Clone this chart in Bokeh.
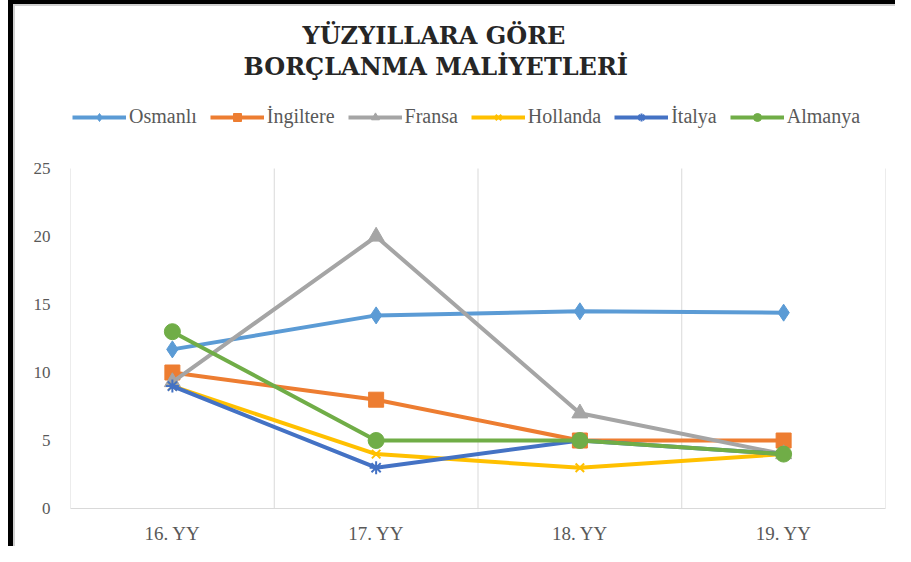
from bokeh.plotting import figure
from bokeh.models import (Range1d, Legend, LegendItem, Title, FixedTicker)
from bokeh.embed import file_html
from bokeh.resources import INLINE

categories = ["16. YY", "17. YY", "18. YY", "19. YY"]
series_names = ["Osmanlı", "İngiltere", "Fransa", "Hollanda", "İtalya", "Almanya"]
osmanli = [11.7, 14.2, 14.5, 14.4]
ingiltere = [10, 8, 5, 5]
fransa = [9.3, 20, 7, 4]
hollanda = [9, 4, 3, 4]
italya = [9, 3, 5, 4]
almanya = [13, 5, 5, 4]
y_ticks = [0, 5, 10, 15, 20, 25]
title_lines = ["YÜZYILLARA GÖRE", "BORÇLANMA MALİYETLERİ"]

series_values = [osmanli, ingiltere, fransa, hollanda, italya, almanya]
colors = ["#5B9BD5", "#ED7D31", "#A5A5A5", "#FFC000", "#4472C4", "#70AD47"]
markers = ["diamond", "square", "triangle", "x", "asterisk", "circle"]
sizes = [17, 15, 16, 12, 13, 16]

# layout (pixels)
W, H = 895, 546
border_top, border_bottom, border_left, border_right = 80, 38, 70, 10
axis_area_top = 168  # where the top of the value scale (25) sits
frame_h = H - border_top - border_bottom
scale_h = H - border_bottom - axis_area_top
y_top = y_ticks[-1] * frame_h / scale_h

xs = [i + 0.5 for i in range(len(categories))]
bounds = list(range(len(categories) + 1))

p = figure(width=W, height=H,
           x_range=Range1d(0, len(categories)),
           y_range=Range1d(y_ticks[0], y_top),
           output_backend="svg", toolbar_location=None, title=None,
           min_border_left=border_left, min_border_right=border_right,
           min_border_bottom=border_bottom, min_border_top=border_top)
p.outline_line_color = None
p.border_fill_color = None
p.xgrid.visible = False
p.ygrid.visible = False
p.styles = {"box-shadow": "inset 8px 0 0 0 white, inset 13px 4px 0 0 black, inset 15px 6px 0 0 #d0d0d0"}

# vertical grid lines at category boundaries, spanning the value scale
p.segment(x0=bounds, y0=[y_ticks[0]] * len(bounds), x1=bounds, y1=[y_ticks[-1]] * len(bounds),
          line_color="#D9D9D9", line_width=1)

items = []
for name, vals, c, m, s in zip(series_names, series_values, colors, markers, sizes):
    ln = p.line(xs, vals, line_color=c, line_width=4)
    if m in ("x", "asterisk"):
        sc = p.scatter(xs, vals, marker=m, size=s, line_color=c, line_width=2)
    else:
        sc = p.scatter(xs, vals, marker=m, size=s, fill_color=c, line_color=c)
    items.append(LegendItem(label=name, renderers=[ln, sc]))

legend = Legend(items=items, orientation="horizontal", location=(2, H - border_bottom - 128),
                glyph_width=54, glyph_height=20, label_height=20, label_standoff=3, spacing=13,
                padding=0, margin=0, border_line_color=None, background_fill_alpha=0,
                label_text_font="Liberation Serif", label_text_font_size="20px",
                label_text_color="#595959")
p.add_layout(legend)

p.add_layout(Title(text=title_lines[1], align="left", offset=173, text_font="DejaVu Serif",
                   text_font_size="24px", text_font_style="bold", text_color="#262626",
                   standoff=0), "above")
p.add_layout(Title(text=title_lines[0], align="left", offset=232, text_font="DejaVu Serif",
                   text_font_size="24px", text_font_style="bold", text_color="#262626",
                   standoff=0), "above")

p.yaxis.ticker = FixedTicker(ticks=y_ticks)
p.yaxis.axis_line_color = None
p.yaxis.major_tick_line_color = None
p.yaxis.minor_tick_line_color = None
p.yaxis.major_label_standoff = 14
p.yaxis.major_label_text_font = "Liberation Serif"
p.yaxis.major_label_text_font_size = "17px"
p.yaxis.major_label_text_color = "#595959"

p.xaxis.ticker = FixedTicker(ticks=xs)
p.xaxis.major_label_overrides = {x: c for x, c in zip(xs, categories)}
p.xaxis.axis_line_color = "#D9D9D9"
p.xaxis.major_tick_line_color = None
p.xaxis.minor_tick_line_color = None
p.xaxis.major_label_standoff = 8
p.xaxis.major_label_text_font = "Liberation Serif"
p.xaxis.major_label_text_font_size = "19px"
p.xaxis.major_label_text_color = "#595959"

open("out.html", "w").write(file_html(p, INLINE))
